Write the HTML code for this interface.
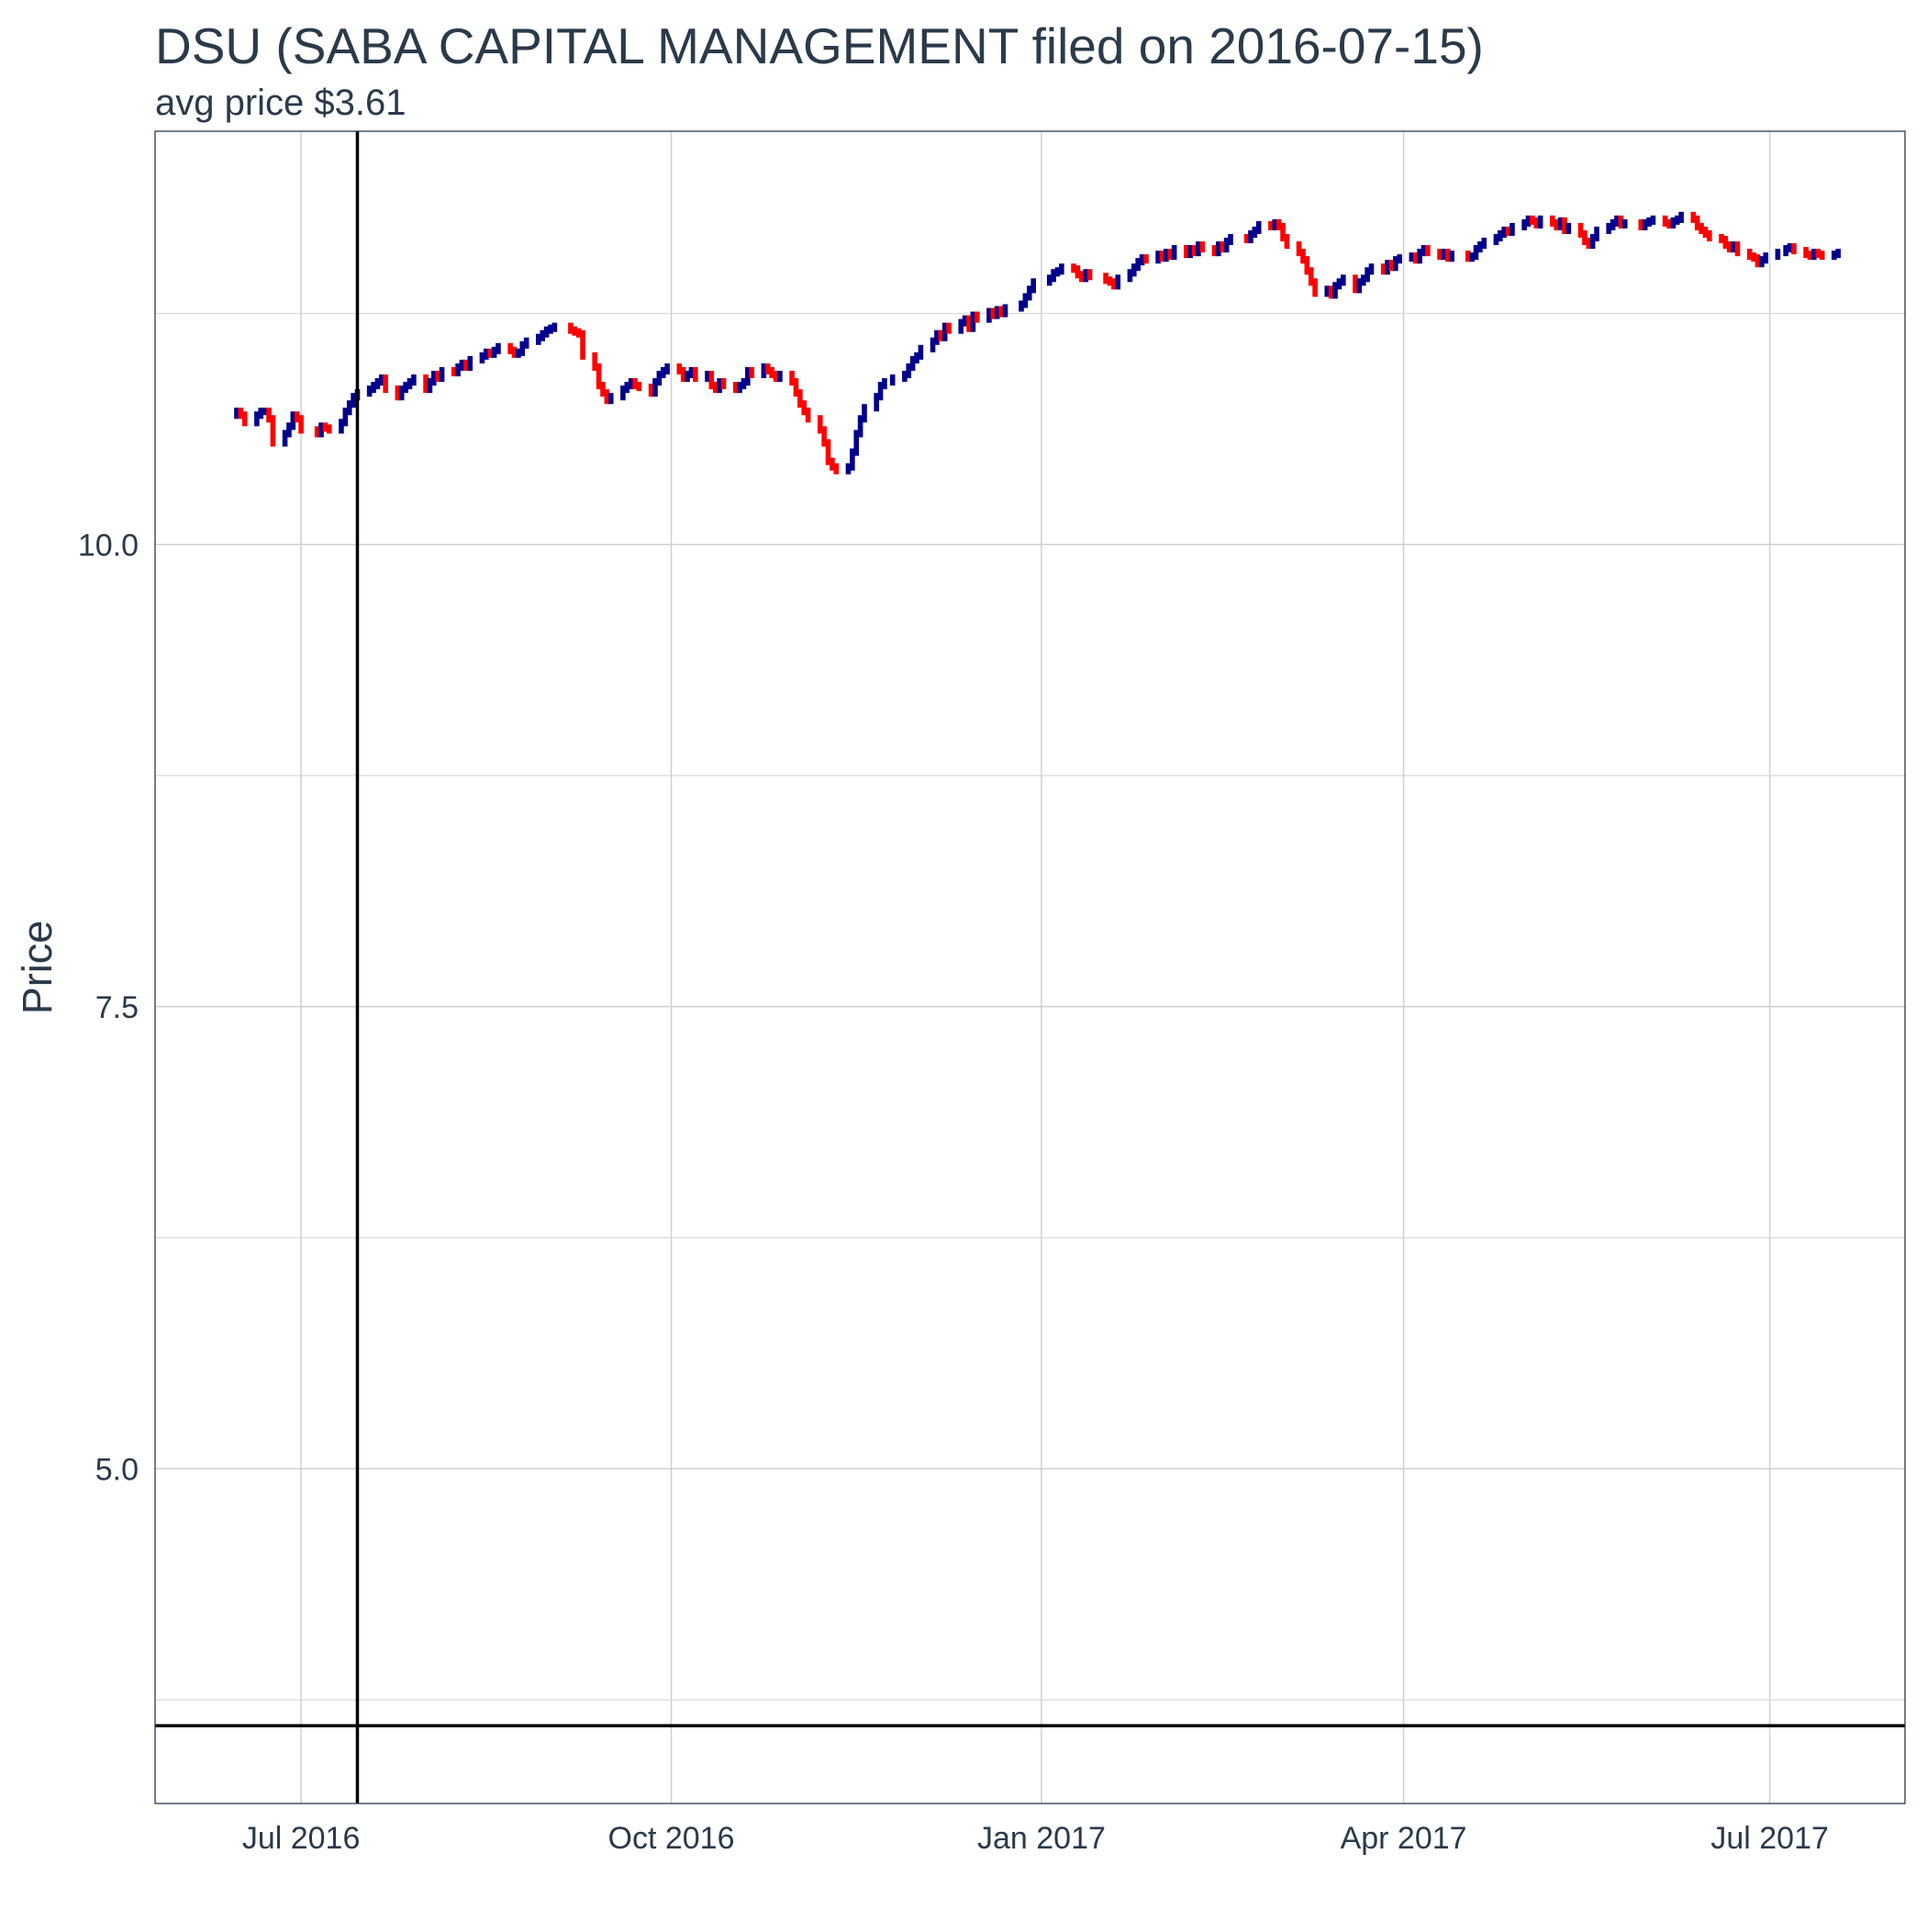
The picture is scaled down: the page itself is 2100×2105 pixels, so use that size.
<!DOCTYPE html>
<html><head><meta charset="utf-8"><style>
html,body{margin:0;padding:0;background:#fff;}
svg text{font-family:"Liberation Sans",sans-serif;fill:#2b3a4a;}
</style></head><body>
<svg id="chart" width="2100" height="2100" xmlns="http://www.w3.org/2000/svg">
<rect width="2100" height="2100" fill="#fff"/>
<text x="169" y="69" font-size="55">DSU (SABA CAPITAL MANAGEMENT filed on 2016-07-15)</text>
<text x="169" y="125" font-size="40">avg price $3.61</text>
<g id="grid"></g>
<g id="bars"></g>
<g id="refs"></g>
<rect x="169" y="143" width="1907" height="1822" fill="none" stroke="#2b3a4a" stroke-width="1.3"/>
<g id="axes"></g>
<text transform="translate(56,1054) rotate(-90)" text-anchor="middle" font-size="45">Price</text>
</svg>
<script>
const startDate = "2016-06-15";
const holidays = ["2016-07-04","2016-09-05","2016-11-24","2016-12-26","2017-01-02","2017-01-16","2017-02-20","2017-04-14","2017-05-29","2017-07-04"];
const firstOpen = 10.70;
const closes = [
10.72,10.70,10.66,10.70,10.72,
10.72,10.68,10.55,
10.60,10.64,10.70,10.68,10.62,
10.60,10.64,10.63,10.62,
10.66,10.72,10.76,10.80,10.82,
10.84,10.86,10.88,10.90,10.84,
10.80,10.84,10.86,10.88,10.90,
10.84,10.88,10.92,10.90,10.94,
10.93,10.96,10.98,10.96,11.00,
11.02,11.04,11.03,11.05,11.07,
11.05,11.03,11.04,11.08,11.10,
11.12,11.14,11.16,11.17,11.18,
11.16,11.15,11.14,11.02,
10.96,10.86,10.82,10.78,10.80,
10.84,10.86,10.88,10.86,10.85,
10.82,10.88,10.92,10.94,10.96,
10.94,10.90,10.92,10.94,10.90,
10.92,10.86,10.84,10.88,10.86,
10.84,10.86,10.88,10.94,10.92,
10.96,10.94,10.92,10.90,10.92,
10.88,10.82,10.76,10.72,10.68,
10.62,10.55,10.45,10.42,10.40,
10.42,10.50,10.60,10.68,10.74,
10.80,10.86,10.88,10.90,
10.92,10.96,11.00,11.02,11.06,
11.10,11.14,11.12,11.18,11.16,
11.20,11.22,11.17,11.24,11.22,
11.26,11.24,11.27,11.25,11.28,
11.30,11.34,11.38,11.42,
11.44,11.47,11.48,11.50,
11.49,11.46,11.44,11.47,11.45,
11.43,11.42,11.40,11.44,
11.47,11.50,11.53,11.55,11.54,
11.57,11.55,11.58,11.56,11.60,
11.57,11.60,11.58,11.62,11.60,
11.58,11.62,11.60,11.64,11.66,
11.65,11.68,11.70,11.73,
11.72,11.74,11.72,11.66,11.62,
11.58,11.54,11.48,11.42,11.36,
11.38,11.35,11.40,11.42,11.44,
11.38,11.42,11.44,11.48,11.50,
11.48,11.52,11.50,11.54,11.55,
11.56,11.54,11.58,11.60,11.58,
11.56,11.58,11.55,11.57,
11.55,11.56,11.60,11.62,11.64,
11.66,11.68,11.70,11.69,11.72,
11.74,11.76,11.75,11.73,11.76,
11.74,11.72,11.75,11.70,11.72,
11.68,11.64,11.62,11.66,11.70,
11.72,11.74,11.76,11.73,11.74,
11.72,11.74,11.75,11.76,
11.74,11.73,11.75,11.76,11.78,
11.76,11.72,11.70,11.68,11.66,
11.65,11.62,11.60,11.62,11.58,
11.56,11.55,11.52,11.54,11.56,
11.58,11.60,11.61,11.59,
11.57,11.56,11.58,11.57,11.56,
11.57,11.58
];
const yTicks = [10.0, 7.5, 5.0];
const yTickLabels = ["10.0","7.5","5.0"];
const yMinor = [11.25, 8.75, 6.25, 3.75];
const xTicks = ["2016-07-01","2016-10-01","2017-01-01","2017-04-01","2017-07-01"];
const xTickLabels = ["Jul 2016","Oct 2016","Jan 2017","Apr 2017","Jul 2017"];
const filingDate = "2016-07-15";
const avgPrice = 3.61;

const NS = "http://www.w3.org/2000/svg";
const DAY = 86400000;
const t0 = Date.UTC(2016,6,1);
function parse(s){const p=s.split("-").map(Number);return Date.UTC(p[0],p[1]-1,p[2]);}
function xS(ms){return 328.1 + (ms - t0)/DAY*4.385;}
function yS(p){return 593.3 + (10 - p)*201.4;}
function mk(tag, attrs, parent){const e=document.createElementNS(NS,tag);for(const k in attrs)e.setAttribute(k,attrs[k]);parent.appendChild(e);return e;}
const grid=document.getElementById("grid"), bars=document.getElementById("bars"), refs=document.getElementById("refs"), axes=document.getElementById("axes");
const L=169,R=2076,T=143,B=1965;

yMinor.forEach(v=>{const l=mk("line",{x1:L,x2:R,y1:yS(v),y2:yS(v),stroke:"#dcdcdc","stroke-width":1.3},grid);

});
yTicks.forEach((v,i)=>{const l=mk("line",{x1:L,x2:R,y1:yS(v),y2:yS(v),stroke:"#d0d0d0","stroke-width":1.5},grid);


const t=mk("text",{x:151,y:yS(v)+12,"text-anchor":"end","font-size":34},axes);t.textContent=yTickLabels[i];

});
xTicks.forEach((d,i)=>{const x=xS(parse(d));const l=mk("line",{x1:x,x2:x,y1:T,y2:B,stroke:"#d0d0d0","stroke-width":1.5},grid);


const t=mk("text",{x:x,y:2014,"text-anchor":"middle","font-size":34},axes);t.textContent=xTickLabels[i];

});

const dates=[];let cur=parse(startDate);
while(dates.length<closes.length){const d=new Date(cur);const wd=d.getUTCDay();const iso=d.toISOString().slice(0,10);
if(wd!==0&&wd!==6&&holidays.indexOf(iso)<0)dates.push(cur);cur+=DAY;}
let prev=firstOpen;
closes.forEach((c,i)=>{const o=prev;const hi=Math.max(o,c)+0.02, lo=Math.min(o,c)-0.02;
const x=xS(dates[i]);const y1=yS(hi),y2=yS(lo);
const r=mk("rect",{x:x-2.8,y:y1,width:5.6,height:Math.max(y2-y1,2),fill:c>=o?"#00008b":"#ff0000"},bars);


prev=c;});

const vx=xS(parse(filingDate));
const vl=mk("line",{x1:vx,x2:vx,y1:T,y2:B,stroke:"#000","stroke-width":3.5},refs);


const hl=mk("line",{x1:L,x2:R,y1:yS(avgPrice),y2:yS(avgPrice),stroke:"#000","stroke-width":3.5},refs);


</script>
</body></html>
